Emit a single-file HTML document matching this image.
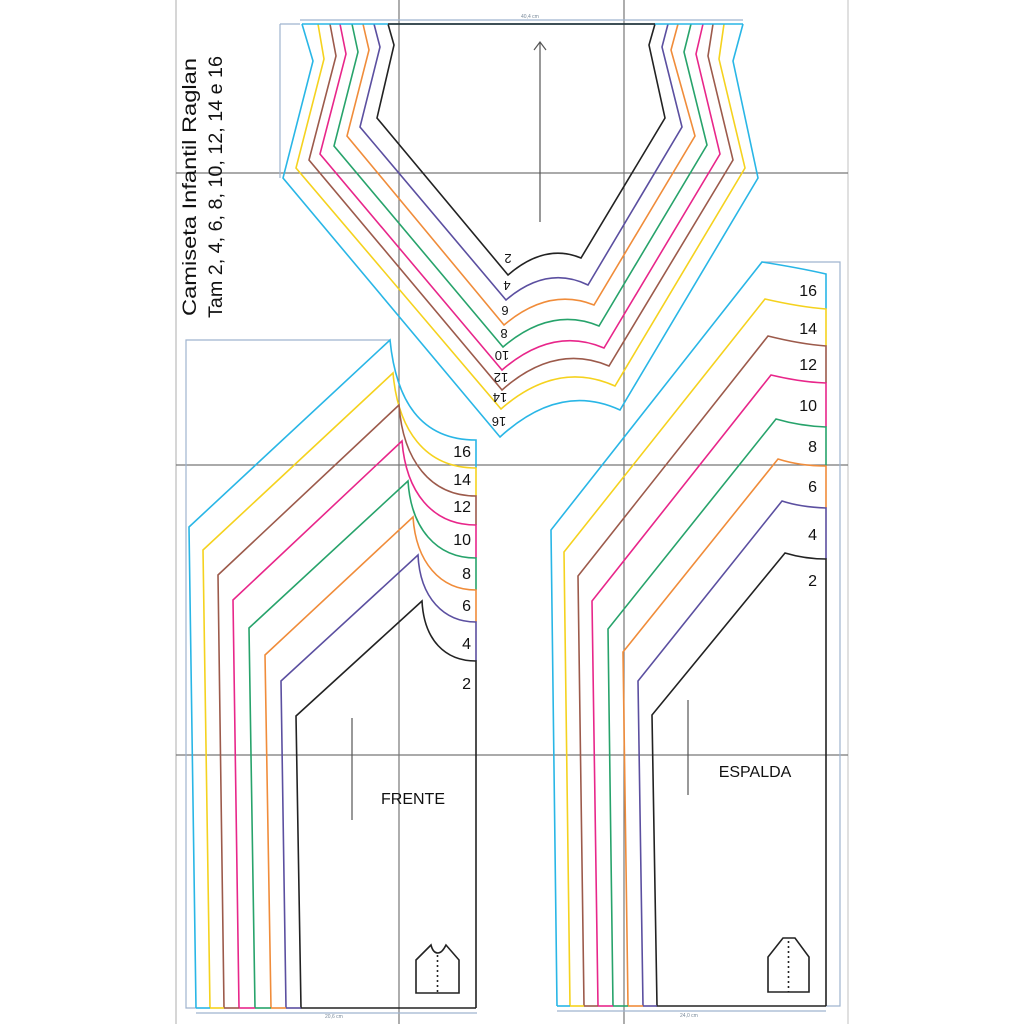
<!DOCTYPE html>
<html><head><meta charset="utf-8"><style>html,body{margin:0;padding:0;background:#fff}svg{display:block}</style></head>
<body>
<svg width="1024" height="1024" viewBox="0 0 1024 1024" xmlns="http://www.w3.org/2000/svg" font-family="Liberation Sans, Arial, sans-serif">
<rect width="1024" height="1024" fill="#fff"/>
<!-- grid lines -->
<g stroke="#777" stroke-width="1.2" fill="none">
<line x1="176" y1="0" x2="176" y2="1024" stroke="#bbb"/>
<line x1="848" y1="0" x2="848" y2="1024" stroke="#ccc"/>
<line x1="399" y1="0" x2="399" y2="1024"/>
<line x1="624" y1="0" x2="624" y2="1024"/>
<line x1="176" y1="173" x2="848" y2="173"/>
<line x1="176" y1="465" x2="848" y2="465"/>
<line x1="176" y1="755" x2="848" y2="755"/>
</g>
<!-- dimension lines -->
<g stroke="#9fb3cf" stroke-width="1.2" fill="none">
<line x1="300" y1="20" x2="743" y2="20"/>
<line x1="280" y1="24" x2="280" y2="178"/>
<line x1="280" y1="24" x2="300" y2="24"/>
<path d="M390 340 H186 V1008 H196"/>
<line x1="196" y1="1013" x2="477" y2="1013"/>
<path d="M762 262 H840 V1006 H826"/>
<line x1="557" y1="1011" x2="826" y2="1011"/>
</g>
<g fill="#789" font-size="5">
<text x="521" y="18">40,4 cm</text>
<text x="325" y="1018">20,6 cm</text>
<text x="680" y="1017">24,0 cm</text>
</g>

<g fill="none" stroke-width="1.6" stroke-linejoin="miter">
<!-- TOP PIECE -->
<path stroke="#29b6e6" d="M302 24 L313 61 L283 178 L500 437 Q560 382 620 410 L758 178 L733 61 L743 24"/>
<path stroke="#f5d21e" d="M318 24 L324 59 L296 168 L501 409 Q557 360 615 386 L745 168 L719 59 L724 24"/>
<path stroke="#9c5a4b" d="M330 24 L336 56 L309 160 L502 390 Q555 343 609 366 L733 160 L708 56 L713 24"/>
<path stroke="#e8268a" d="M340 24 L346 54 L320 154 L502 370 Q553 326 604 348 L720 154 L696 54 L703 24"/>
<path stroke="#27a36b" d="M352 24 L358 52 L334 146 L503 347 Q551 306 599 326 L707 145 L684 52 L691 24"/>
<path stroke="#f08c3a" d="M363 24 L369 50 L347 136 L504 325 Q549 287 594 305 L695 136 L671 50 L678 24"/>
<path stroke="#5b4fa0" d="M374 24 L380 47 L360 127 L506 300 Q547 265 588 285 L682 127 L662 47 L668 24"/>
<path stroke="#222" d="M388 24 L394 45 L377 118 L508 275 Q545 243 581 258 L665 118 L649 45 L655 24"/>
<line x1="302" y1="24" x2="743" y2="24" stroke="#29b6e6"/>
<line x1="388" y1="24" x2="655" y2="24" stroke="#222"/>

<!-- FRONT PIECE -->
<path stroke="#29b6e6" d="M196 1008 L189 527 L390 340 C396 400 420 440 476 440 V468"/>
<path stroke="#f5d21e" d="M210 1008 L203 550 L393 373 C398 430 425 468 476 468 V496"/>
<path stroke="#9c5a4b" d="M224 1008 L218 575 L399 405 C403 460 430 496 476 496 V525"/>
<path stroke="#e8268a" d="M239 1008 L233 600 L402 441 C406 492 432 525 476 525 V558"/>
<path stroke="#27a36b" d="M255 1008 L249 628 L408 481 C411 528 436 558 476 558 V590"/>
<path stroke="#f08c3a" d="M271 1008 L265 655 L413 517 C416 562 440 590 476 590 V622"/>
<path stroke="#5b4fa0" d="M286 1008 L281 681 L418 555 C420 598 444 622 476 622 V661"/>
<path stroke="#222" d="M476 1008 H301 L296 716 L422 601 C424 640 445 661 476 661 V1008"/>
<g stroke-width="1.6">
<line x1="196" y1="1008" x2="210" y2="1008" stroke="#29b6e6"/>
<line x1="210" y1="1008" x2="224" y2="1008" stroke="#f5d21e"/>
<line x1="224" y1="1008" x2="239" y2="1008" stroke="#9c5a4b"/>
<line x1="239" y1="1008" x2="255" y2="1008" stroke="#e8268a"/>
<line x1="255" y1="1008" x2="271" y2="1008" stroke="#27a36b"/>
<line x1="271" y1="1008" x2="286" y2="1008" stroke="#f08c3a"/>
<line x1="286" y1="1008" x2="301" y2="1008" stroke="#5b4fa0"/>
</g>

<!-- BACK PIECE -->
<path stroke="#29b6e6" d="M557 1006 L551 530 L762 262 Q800 268 826 274 V309"/>
<path stroke="#f5d21e" d="M570 1006 L564 552 L765 299 Q800 307 826 309 V346"/>
<path stroke="#9c5a4b" d="M584 1006 L578 576 L768 336 Q800 344 826 346 V383"/>
<path stroke="#e8268a" d="M598 1006 L592 601 L771 375 Q800 382 826 383 V427"/>
<path stroke="#27a36b" d="M613 1006 L608 629 L776 419 Q800 426 826 427 V466"/>
<path stroke="#f08c3a" d="M628 1006 L623 652 L778 459 Q800 466 826 466 V508"/>
<path stroke="#5b4fa0" d="M643 1006 L638 681 L782 501 Q800 507 826 508 V559"/>
<path stroke="#222" d="M826 1006 H657 L652 715 L785 553 Q805 559 826 559 V1006"/>
<g stroke-width="1.6">
<line x1="557" y1="1006" x2="570" y2="1006" stroke="#29b6e6"/>
<line x1="570" y1="1006" x2="584" y2="1006" stroke="#f5d21e"/>
<line x1="584" y1="1006" x2="598" y2="1006" stroke="#9c5a4b"/>
<line x1="598" y1="1006" x2="613" y2="1006" stroke="#e8268a"/>
<line x1="613" y1="1006" x2="628" y2="1006" stroke="#27a36b"/>
<line x1="628" y1="1006" x2="643" y2="1006" stroke="#f08c3a"/>
<line x1="643" y1="1006" x2="657" y2="1006" stroke="#5b4fa0"/>
</g>
</g>

<!-- grain lines & arrow -->
<g stroke="#555" stroke-width="1.2" fill="none">
<line x1="540" y1="42" x2="540" y2="222"/>
<path d="M534 50 L540 42 L546 50"/>
<line x1="352" y1="718" x2="352" y2="820"/>
<line x1="688" y1="700" x2="688" y2="795"/>
</g>

<!-- icons -->
<g stroke="#222" stroke-width="1.6" fill="none">
<path d="M416 993 H459 V960 L446 945 Q442 953 438 953 Q433 953 431 945 L416 960 Z"/>
<line x1="437.5" y1="955" x2="437.5" y2="993" stroke-dasharray="2 3"/>
<path d="M768 992 H809 V957 L795 938 H783 L768 957 Z"/>
<line x1="788.5" y1="941" x2="788.5" y2="992" stroke-dasharray="2 3"/>
</g>

<!-- title -->
<g fill="#111" font-size="19">
<text transform="translate(196,316) rotate(-90)" textLength="258" lengthAdjust="spacingAndGlyphs">Camiseta Infantil Raglan</text>
<text transform="translate(222,318) rotate(-90)" textLength="262" lengthAdjust="spacingAndGlyphs">Tam 2, 4, 6, 8, 10, 12, 14 e 16</text>
</g>

<!-- top piece numbers (upside down) -->
<g fill="#111" font-size="13" text-anchor="middle">
<text transform="translate(508,254) rotate(180)">2</text>
<text transform="translate(507,281) rotate(180)">4</text>
<text transform="translate(505,306) rotate(180)">6</text>
<text transform="translate(504,329) rotate(180)">8</text>
<text transform="translate(502,351) rotate(180)">10</text>
<text transform="translate(501,373) rotate(180)">12</text>
<text transform="translate(500,393) rotate(180)">14</text>
<text transform="translate(499,417) rotate(180)">16</text>
</g>

<!-- front numbers -->
<g fill="#111" font-size="16" text-anchor="end">
<text x="471" y="457">16</text>
<text x="471" y="485">14</text>
<text x="471" y="512">12</text>
<text x="471" y="545">10</text>
<text x="471" y="579">8</text>
<text x="471" y="611">6</text>
<text x="471" y="649">4</text>
<text x="471" y="689">2</text>
<text x="817" y="296">16</text>
<text x="817" y="334">14</text>
<text x="817" y="370">12</text>
<text x="817" y="411">10</text>
<text x="817" y="452">8</text>
<text x="817" y="492">6</text>
<text x="817" y="540">4</text>
<text x="817" y="586">2</text>
</g>
<g fill="#111" font-size="16" text-anchor="middle">
<text x="413" y="804">FRENTE</text>
<text x="755" y="777">ESPALDA</text>
</g>
</svg>
</body></html>
